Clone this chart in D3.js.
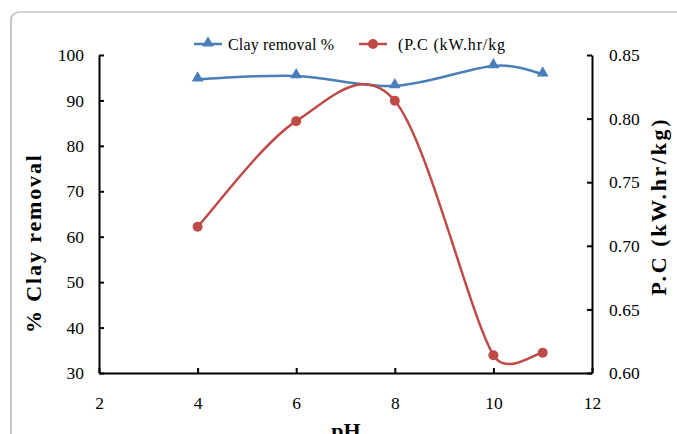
<!DOCTYPE html>
<html>
<head>
<meta charset="utf-8">
<script src="https://cdn.jsdelivr.net/npm/d3@7"></script>
<style>
  body { margin: 0; background: #fff; }
</style>
</head>
<body>
<div class="container"></div>
<script>
const pH = [4, 6, 8, 10, 11];
const clayRemoval = [94.7, 95.4, 93.2, 97.6, 95.8];
const powerCons = [0.715, 0.798, 0.814, 0.614, 0.616];
const xTicks = [2, 4, 6, 8, 10, 12];
const yLeftTicks = [30, 40, 50, 60, 70, 80, 90, 100];
const yRightTicks = [0.60, 0.65, 0.70, 0.75, 0.80, 0.85];

const WIDTH = 677;
const HEIGHT = 434;
const BLUE = '#4a7ebb';
const RED = '#be4b48';
const SERIF = 'Liberation Serif, Times New Roman, serif';

var svg = d3.select('.container').append('svg')
  .attr('width', WIDTH)
  .attr('height', HEIGHT)
  .attr('font-family', SERIF);

// outer chart frame
svg.append('rect')
  .attr('x', 11).attr('y', 12)
  .attr('width', 700).attr('height', 460)
  .attr('rx', 8)
  .attr('fill', 'none')
  .attr('stroke', '#a6a6a6')
  .attr('stroke-width', 1.2);

var xScale = d3.scaleLinear().domain([2, 12]).range([99, 592]);
var yLeft = d3.scaleLinear().domain([30, 100]).range([373, 55]);
var yRight = d3.scaleLinear().domain([0.60, 0.85]).range([373, 55]);

function styleAxis(g) {
  g.attr('font-family', SERIF).attr('font-size', 17.5);
  g.selectAll('path').attr('stroke', '#000').attr('stroke-width', 2);
  g.selectAll('line').attr('stroke', '#000').attr('stroke-width', 2);
  g.selectAll('text').attr('fill', '#000');
}

var xAxis = d3.axisBottom(xScale).tickValues(xTicks).tickSizeInner(-5).tickSizeOuter(0)
  .tickPadding(24).tickFormat(d3.format('d'));
svg.append('g').attr('transform', 'translate(0,373)').call(xAxis).call(styleAxis);

var leftAxis = d3.axisLeft(yLeft).tickValues(yLeftTicks).tickSizeInner(-5).tickSizeOuter(0)
  .tickPadding(15).tickFormat(d3.format('d'));
svg.append('g').attr('transform', 'translate(99,0)').call(leftAxis).call(styleAxis);

var rightAxis = d3.axisRight(yRight).tickValues(yRightTicks).tickSizeInner(-5).tickSizeOuter(0)
  .tickPadding(17).tickFormat(d3.format('.2f'));
svg.append('g').attr('transform', 'translate(592,0)').call(rightAxis).call(styleAxis);

// axis titles
svg.append('text')
  .attr('transform', 'translate(41,244) rotate(-90)')
  .attr('text-anchor', 'middle')
  .attr('font-size', 22).attr('font-weight', 'bold')
  .attr('textLength', 178).attr('lengthAdjust', 'spacing')
  .text('% Clay removal');

svg.append('text')
  .attr('transform', 'translate(666,207.5) rotate(-90)')
  .attr('text-anchor', 'middle')
  .attr('font-size', 22).attr('font-weight', 'bold')
  .attr('textLength', 176).attr('lengthAdjust', 'spacing')
  .text('P.C (kW.hr/kg)');

svg.append('text')
  .attr('x', 346).attr('y', 438)
  .attr('text-anchor', 'middle')
  .attr('font-size', 22).attr('font-weight', 'bold')
  .text('pH');

// Excel style smoothing: cardinal tangents, clamped to half the segment
function smoothPath(pts) {
  var p = d3.path();
  p.moveTo(pts[0][0], pts[0][1]);
  for (var i = 0; i < pts.length - 1; i++) {
    var p0 = pts[Math.max(i - 1, 0)], p1 = pts[i], p2 = pts[i + 1], p3 = pts[Math.min(i + 2, pts.length - 1)];
    var half = Math.hypot(p2[0] - p1[0], p2[1] - p1[1]) / 2;
    var t1 = [(p2[0] - p0[0]) / 6, (p2[1] - p0[1]) / 6];
    var t2 = [(p3[0] - p1[0]) / 6, (p3[1] - p1[1]) / 6];
    var l1 = Math.hypot(t1[0], t1[1]), l2 = Math.hypot(t2[0], t2[1]);
    if (l1 > half) { t1 = [t1[0] * half / l1, t1[1] * half / l1]; }
    if (l2 > half) { t2 = [t2[0] * half / l2, t2[1] * half / l2]; }
    p.bezierCurveTo(p1[0] + t1[0], p1[1] + t1[1], p2[0] - t2[0], p2[1] - t2[1], p2[0], p2[1]);
  }
  return p.toString();
}

// series
var clayData = pH.map(function(v, i){ return {x: v, y: clayRemoval[i]}; });
var pcData = pH.map(function(v, i){ return {x: v, y: powerCons[i]}; });

svg.append('path')
  .attr('d', smoothPath(clayData.map(function(d){ return [xScale(d.x), yLeft(d.y)]; })))
  .attr('fill', 'none').attr('stroke', BLUE).attr('stroke-width', 2.5);

svg.append('path')
  .attr('d', smoothPath(pcData.map(function(d){ return [xScale(d.x), yRight(d.y)]; })))
  .attr('fill', 'none').attr('stroke', RED).attr('stroke-width', 2.5);

var tri = d3.symbol().type(d3.symbolTriangle).size(60);

svg.selectAll('.tri').data(clayData)
  .enter().append('path')
  .attr('class', 'tri')
  .attr('d', tri)
  .attr('transform', function(d){ return 'translate(' + xScale(d.x) + ',' + (yLeft(d.y) - 1) + ')'; })
  .attr('fill', BLUE);

svg.selectAll('.dot').data(pcData)
  .enter().append('circle')
  .attr('class', 'dot')
  .attr('cx', function(d){ return xScale(d.x); })
  .attr('cy', function(d){ return yRight(d.y); })
  .attr('r', 5)
  .attr('fill', RED);

// legend
var legend = svg.append('g').attr('transform', 'translate(0,44)').attr('font-size', 16);
legend.append('line').attr('x1', 194).attr('x2', 222).attr('y1', 0).attr('y2', 0)
  .attr('stroke', BLUE).attr('stroke-width', 2.5);
legend.append('path').attr('d', tri).attr('transform', 'translate(208,-1)').attr('fill', BLUE);
legend.append('text').attr('x', 228).attr('y', 6).attr('textLength', 106).attr('lengthAdjust', 'spacing')
  .text('Clay removal %');

legend.append('line').attr('x1', 359).attr('x2', 387).attr('y1', 0).attr('y2', 0)
  .attr('stroke', RED).attr('stroke-width', 2.5);
legend.append('circle').attr('cx', 373).attr('cy', 0).attr('r', 5).attr('fill', RED);
legend.append('text').attr('x', 398).attr('y', 6).attr('textLength', 107).attr('lengthAdjust', 'spacing')
  .text('(P.C (kW.hr/kg');
</script>
</body>
</html>
